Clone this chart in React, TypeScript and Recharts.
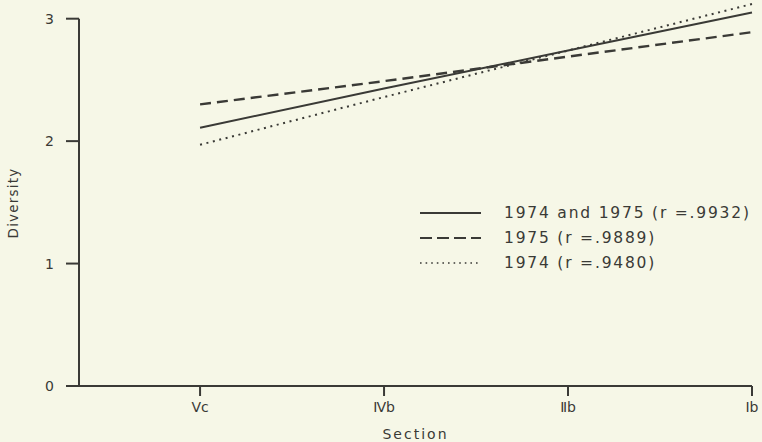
import { LineChart, Line, XAxis, YAxis, Legend, ReferenceLine } from 'recharts';

const sections = ['Ⅴc', 'Ⅳb', 'Ⅱb', 'Ⅰb'];
const sectionPos = [1, 2, 3, 4];
const both = [2.11, 2.43, 2.74, 3.05];
const y1975 = [2.30, 2.49, 2.69, 2.89];
const y1974 = [1.97, 2.36, 2.74, 3.12];
const yTicks = [0, 1, 2, 3];

const ink = '#3a3a36';
const bg = '#f6f7e7';
const font = '"DejaVu Sans", sans-serif';
const xMin = 0.342;

const series = [
  { key: 'both', name: '1974 and 1975 (r =.9932)', dash: undefined, width: 2 },
  { key: 'y1975', name: '1975 (r =.9889)', dash: '11 6', width: 2.4 },
  { key: 'y1974', name: '1974 (r =.9480)', dash: '2 4.6', width: 2 },
];

const data = sections.map((name, i) => ({
  name,
  pos: sectionPos[i],
  both: both[i],
  y1975: y1975[i],
  y1974: y1974[i],
}));

function LegendBox() {
  return (
    <svg width={344} height={80}>
      {series.map((s, i) => (
        <g key={s.key}>
          <line
            x1={2}
            x2={63}
            y1={10 + i * 25}
            y2={10 + i * 25}
            stroke={ink}
            strokeWidth={s.key === 'y1974' ? 1.6 : 2}
            strokeDasharray={s.key === 'y1975' ? '12 5' : s.key === 'y1974' ? '1.6 4' : undefined}
          />
          <text
            x={86}
            y={10 + i * 25}
            dominantBaseline="central"
            fontFamily={font}
            fontSize={15.5}
            letterSpacing={1.8}
            fill={ink}
          >
            {s.name}
          </text>
        </g>
      ))}
    </svg>
  );
}

export default function App() {
  return (
    <div style={{ position: 'fixed', inset: 0, background: bg }}>
      <LineChart
        width={762}
        height={442}
        data={data}
        margin={{ top: 4, right: 10, bottom: 0, left: 0 }}
        style={{ fontFamily: font }}
      >
        <XAxis
          dataKey="pos"
          type="number"
          domain={[xMin, 4]}
          ticks={sectionPos}
          tickFormatter={(v: number) => sections[v - 1]}
          height={56}
          stroke={ink}
          strokeWidth={2}
          tickSize={10}
          tickMargin={6}
          tick={{ fontSize: 14, fill: ink, fontFamily: font }}
          label={{
            value: 'Section',
            position: 'insideBottom',
            offset: 3,
            fontSize: 14,
            fill: ink,
            letterSpacing: 2,
            fontFamily: font,
          }}
        />
        <YAxis
          domain={[0, 3.12]}
          ticks={yTicks}
          width={79}
          axisLine={false}
          stroke={ink}
          strokeWidth={2}
          tickSize={13}
          tickMargin={12}
          tick={{ fontSize: 14, fill: ink, fontFamily: font }}
          label={{
            value: 'Diversity',
            angle: -90,
            position: 'insideLeft',
            offset: 13,
            dy: 8,
            textAnchor: 'middle',
            fontSize: 13.5,
            fill: ink,
            letterSpacing: 1.2,
            fontFamily: font,
          }}
        />
        <ReferenceLine
          segment={[{ x: xMin, y: 0 }, { x: xMin, y: 3 }]}
          stroke={ink}
          strokeWidth={2}
        />
        <Legend
          layout="vertical"
          verticalAlign="middle"
          align="center"
          wrapperStyle={{ left: 418, top: 203, width: 344 }}
          content={() => <LegendBox />}
        />
        {series.map(s => (
          <Line
            key={s.key}
            dataKey={s.key}
            name={s.name}
            stroke={ink}
            strokeWidth={s.width}
            strokeDasharray={s.dash}
            dot={false}
            activeDot={false}
            type="linear"
            isAnimationActive={false}
          />
        ))}
      </LineChart>
    </div>
  );
}
